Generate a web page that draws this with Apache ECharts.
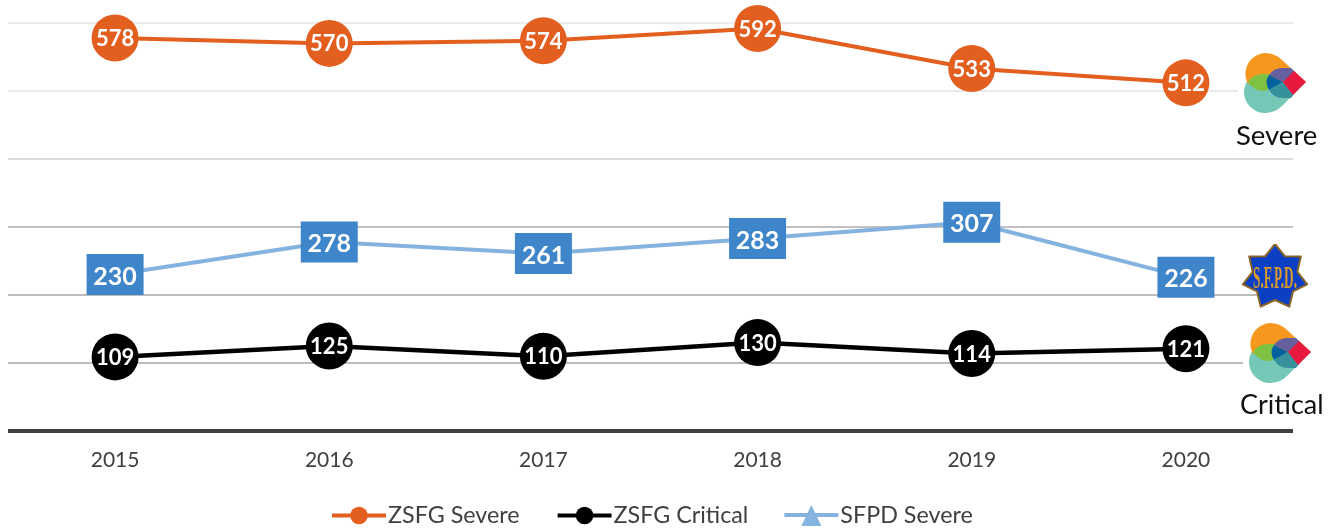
<!DOCTYPE html>
<html><head><meta charset="utf-8">
<style>html,body{margin:0;padding:0;background:#fff}#c{width:1337px;height:529px}</style>
<script src="https://cdn.jsdelivr.net/npm/echarts@6/dist/echarts.min.js"></script>
</head><body><div id="c"></div>
<script>
const years = ['2015','2016','2017','2018','2019','2020'];
const zsfgSevere = [578,570,574,592,533,512];
const zsfgCritical = [109,125,110,130,114,121];
const sfpdSevere = [230,278,261,283,307,226];
const gridColors = ['#a6a6a6','#a6a6a6','#a6a6a6','#acacac','#cfcfcf','#e2e2e2','#e6e6e6'];

const FONT = 'Lato, Carlito, "Noto Sans", sans-serif';
const chart = echarts.init(document.getElementById('c'), null, {renderer:'canvas'});

function label(size, dy){
  return {show:true, position:'inside', offset:[0,dy], color:'#fff', fontFamily:FONT, fontWeight:'bold', fontSize:size};
}
function uri(svg){ return 'data:image/svg+xml;charset=utf-8,' + encodeURIComponent(svg); }

const heartSvg = uri('<svg xmlns="http://www.w3.org/2000/svg" width="62" height="60" viewBox="0 0 62 60">'
 + '<path fill="#75c8b8" d="M21,18 L40,18 L62,29 L38,53 Q31,60 21,60 A21,21 0 0 1 21,18Z"/>'
 + '<path fill="#f6971e" d="M21,0 Q31,0 38,7 L62,29 L30,30 L4,31 A21,21 0 0 1 21,0Z"/>'
 + '<path fill="#7fc241" d="M4,29 Q9,21 19,21 L28,21 Q22,29 24,37 L20,38 Q10,38 4,29Z"/>'
 + '<path fill="#655f9f" d="M39,29 L25,22 Q30,15 38,15 L47,15 L52,20Z"/>'
 + '<path fill="#03619f" d="M39,29 L25,22 Q20,29 25,37Z"/>'
 + '<path fill="#36919c" d="M39,29 L25,37 Q30,45 38,45 L47,45 L52,38Z"/>'
 + '<path fill="#e8193f" d="M50,18 L62,29 L49,42 L39,29Z"/>'
 + '</svg>');

const starPts = [];
for (let i = 0; i < 14; i++) {
  const a = -Math.PI/2 + i*Math.PI/7, r = i%2 ? 23 : 33;
  starPts.push((34+r*Math.cos(a)).toFixed(1)+','+(33+r*Math.sin(a)).toFixed(1));
}
const starSvg = uri('<svg xmlns="http://www.w3.org/2000/svg" width="68" height="66" viewBox="0 0 68 66">'
 + '<polygon points="'+starPts.join(' ')+'" fill="#0b3fc4" stroke="#8a6526" stroke-width="2" stroke-linejoin="round"/>'
 + '<text x="34" y="44" text-anchor="middle" font-family="Liberation Sans Narrow" font-weight="bold" font-size="31" textLength="44" lengthAdjust="spacingAndGlyphs" fill="#d99a2b">S.F.P.D.</text>'
 + '</svg>');

chart.setOption({
  animation:false,
  backgroundColor:'#fff',
  textStyle:{fontFamily:FONT},
  grid:{left:8, right:44, top:23, bottom:98, containLabel:false},
  legend:{
    top:504, left:330, padding:0, itemWidth:54, itemHeight:22, itemGap:36,
    lineStyle:{width:4},
    textStyle:{fontFamily:FONT, fontSize:23.3, color:'#404040', padding:[2,0,0,-3]},
    data:[
      {name:'ZSFG Severe'},
      {name:'ZSFG Critical'},
      {name:'SFPD Severe', itemStyle:{color:'#85b3df'},
       icon:'path://M0,9 L23.2,9 L27,1 L30.8,9 L54,9 L54,13 L32.7,13 L37,22 L17,22 L21.3,13 L0,13 Z'}
    ]
  },
  xAxis:{
    type:'category', data:years, boundaryGap:true,
    axisLine:{show:true, lineStyle:{color:'#404040', width:4, cap:'butt'}},
    axisTick:{show:false},
    axisLabel:{color:'#404040', fontSize:21, fontFamily:FONT, margin:19}
  },
  yAxis:{
    type:'value', min:0, max:600, interval:100,
    axisLine:{show:false}, axisTick:{show:false}, axisLabel:{show:false},
    splitLine:{show:true, lineStyle:{color:gridColors, width:1.5}}
  },
  series:[
    {name:'ZSFG Severe', type:'line', data:zsfgSevere, symbol:'circle', symbolSize:47,
     lineStyle:{color:'#e35f1f', width:4}, itemStyle:{color:'#e35f1f'}, label:label(22,1), z:3},
    {name:'ZSFG Critical', type:'line', data:zsfgCritical, symbol:'circle', symbolSize:47,
     lineStyle:{color:'#000', width:4.5}, itemStyle:{color:'#000'}, label:label(22,1), z:3},
    {name:'SFPD Severe', type:'line', data:sfpdSevere, symbol:'rect', symbolSize:[57,41],
     lineStyle:{color:'#85b3df', width:4}, itemStyle:{color:'#3f85c9'}, label:label(25,2), z:3}
  ],
  graphic:[
    {type:'rect', silent:true, z:10, shape:{x:1238,y:60,width:99,height:50}, style:{fill:'#fff'}},
    {type:'rect', silent:true, z:10, shape:{x:1243,y:330,width:94,height:50}, style:{fill:'#fff'}},
    {type:'rect', silent:true, z:10, shape:{x:1258,y:285,width:79,height:20}, style:{fill:'#fff'}},
    {type:'image', silent:true, z:11, style:{image:heartSvg, x:1244, y:53, width:62, height:60}},
    {type:'image', silent:true, z:11, style:{image:heartSvg, x:1249, y:323, width:62, height:60}},
    {type:'image', silent:true, z:11, style:{image:starSvg, x:1241, y:244, width:68, height:66}},
    {type:'text', silent:true, z:11, style:{text:'Severe', x:1236, y:122, font:'27.5px '+FONT, fill:'#111'}},
    {type:'text', silent:true, z:11, style:{text:'Critical', x:1240, y:392, font:'27px '+FONT, fill:'#111'}}
  ]
});
</script></body></html>
